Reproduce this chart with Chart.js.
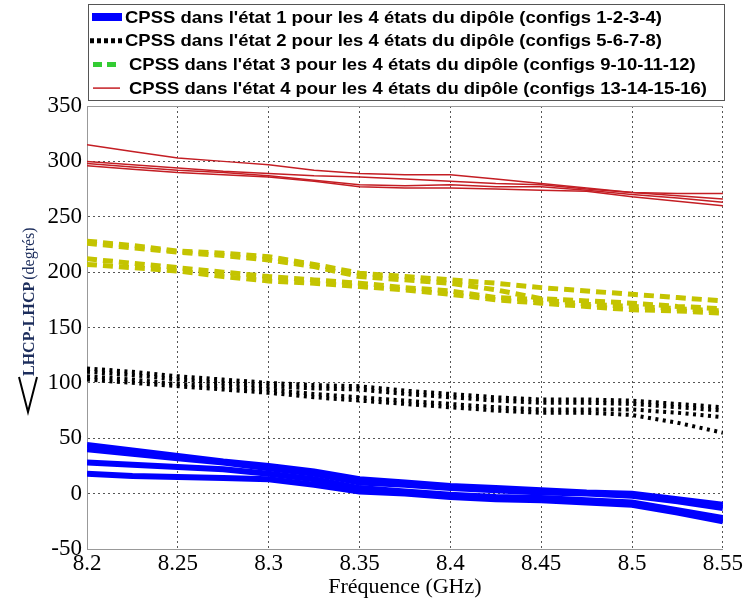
<!DOCTYPE html>
<html>
<head>
<meta charset="utf-8">
<script src="https://cdn.jsdelivr.net/npm/chart.js@4.4.1/dist/chart.umd.min.js"></script>
<style>
  html, body { margin: 0; padding: 0; background: #fff; }
  #wrap { width: 744px; height: 601px; }
</style>
</head>
<body>
<div id="wrap"><canvas id="chart" width="744" height="601"></canvas></div>
<script>
// frequency points (GHz)
const freqs = [8.2, 8.225, 8.25, 8.275, 8.3, 8.325, 8.35, 8.375, 8.4, 8.425, 8.45, 8.475, 8.5, 8.525, 8.55];
const xTickValues = [8.2, 8.25, 8.3, 8.35, 8.4, 8.45, 8.5, 8.55];

// phase LHCP-LHCP (deg), 4 dipole states for each CPSS state
const etat1 = [
  [44, 39, 34, 29, 25, 20, 13, 10, 7, 5, 3, 1, 0, -5, -10],
  [40, 36, 32, 28, 23, 18, 10, 8, 5, 3, 1, 0, -2, -7, -13],
  [28, 26, 24, 22, 18, 13, 5, 2, -1, -3, -4, -6, -8, -15, -22],
  [18, 16, 15, 14, 13, 8, 2, 0, -3, -5, -6, -8, -10, -17, -25]
];
const etat2 = [
  [113, 110, 106, 103, 100, 98, 97, 93, 90, 87, 85, 85, 84, 81, 78],
  [110, 107, 103, 100, 97, 95, 94, 90, 87, 84, 82, 82, 81, 78, 75],
  [106, 103, 99, 97, 94, 90, 87, 84, 81, 78, 76, 76, 76, 73, 69],
  [103, 100, 97, 94, 91, 87, 84, 81, 78, 75, 73, 73, 71, 64, 55]
];
const etat3 = [
  [228, 224, 219, 217, 214, 207, 199, 196, 193, 190, 186, 183, 180, 177, 174],
  [226, 222, 218, 215, 211, 205, 196, 193, 190, 184, 176, 174, 172, 169, 167],
  [212, 208, 204, 200, 196, 193, 190, 186, 183, 177, 175, 171, 169, 167, 165],
  [207, 204, 201, 196, 192, 190, 187, 184, 180, 175, 172, 169, 166, 165, 163]
];
const etat4 = [
  [315, 309, 303, 300, 297, 292, 289, 288, 288, 284, 280, 276, 272, 271, 271],
  [300, 297, 294, 291, 289, 287, 286, 284, 282, 280, 279, 275, 272, 269, 266],
  [298, 295, 292, 290, 287, 283, 279, 278, 279, 277, 277, 274, 270, 267, 263],
  [296, 293, 290, 288, 286, 282, 277, 276, 276, 275, 274, 273, 268, 264, 260]
];

const legendLabels = [
  "CPSS dans l'état 1 pour les 4 états du dipôle (configs 1-2-3-4)",
  "CPSS dans l'état 2 pour les 4 états du dipôle (configs 5-6-7-8)",
  "CPSS dans l'état 3 pour les 4 états du dipôle (configs 9-10-11-12)",
  "CPSS dans l'état 4 pour les 4 états du dipôle (configs 13-14-15-16)"
];

const groups = [etat1, etat2, etat3, etat4];
const lineStyles = [
  { color: '#0000ff', width: 6, dash: [] },
  { color: '#000000', width: 4, dash: [3, 4.5] },
  { color: '#c4c400', width: 5, dash: [10, 6] },
  { color: '#c41e24', width: 1.5, dash: [] }
];

const datasets = [];
groups.forEach((g, gi) => {
  g.forEach((vals) => {
    datasets.push({
      data: freqs.map((f, i) => ({ x: f, y: vals[i] })),
      borderColor: lineStyles[gi].color,
      borderWidth: lineStyles[gi].width,
      borderDash: lineStyles[gi].dash,
      borderCapStyle: 'butt',
      pointRadius: 0,
      tension: 0,
      fill: false
    });
  });
});

// legend box, y axis label and top frame line
const decorations = {
  id: 'decorations',
  afterDraw(chart) {
    const ctx = chart.ctx;
    const area = chart.chartArea;
    ctx.save();
    // top frame
    ctx.strokeStyle = '#999';
    ctx.lineWidth = 1;
    ctx.beginPath();
    ctx.moveTo(area.left, area.top + 0.5);
    ctx.lineTo(area.right, area.top + 0.5);
    ctx.stroke();

    // legend
    ctx.fillStyle = '#fff';
    ctx.fillRect(88, 4, 636, 96);
    ctx.strokeStyle = '#555';
    ctx.strokeRect(88.5, 4.5, 636, 96);
    const sampleColors = ['#0000ff', '#000000', '#33cc33', '#c41e24'];
    ctx.font = 'bold 17px "Liberation Sans", Arial, sans-serif';
    const sx = 578 / ctx.measureText(legendLabels[3]).width;
    legendLabels.forEach((txt, i) => {
      const cy = 17 + i * 23.7;
      ctx.strokeStyle = sampleColors[i];
      ctx.fillStyle = sampleColors[i];
      if (i === 0) {
        ctx.fillRect(92, cy - 4, 30, 8);
      } else {
        ctx.lineWidth = i === 3 ? 1.5 : 5;
        ctx.setLineDash(i === 1 ? [4, 3] : (i === 2 ? [9, 5] : []));
        ctx.beginPath();
        ctx.moveTo(i === 1 ? 90 : 93, cy);
        ctx.lineTo(i === 1 ? 123 : 120, cy);
        ctx.stroke();
        ctx.setLineDash([]);
      }
      ctx.save();
      ctx.translate(i < 2 ? 125 : 129, cy);
      ctx.scale(sx, 1);
      ctx.fillStyle = '#000';
      ctx.textBaseline = 'middle';
      ctx.fillText(txt, 0, 1);
      ctx.restore();
    });

    // y axis label: angle sign + LHCP-LHCP (degrés)
    ctx.strokeStyle = '#000';
    ctx.lineWidth = 2;
    ctx.beginPath();
    ctx.moveTo(19, 377);
    ctx.lineTo(28, 412);
    ctx.lineTo(37, 377);
    ctx.stroke();
    ctx.save();
    ctx.translate(34, 376);
    ctx.rotate(-Math.PI / 2);
    ctx.fillStyle = '#1c2d5c';
    ctx.textBaseline = 'alphabetic';
    ctx.font = 'bold 16px "Liberation Serif", "Times New Roman", serif';
    ctx.fillText('LHCP-LHCP', 0, 0);
    const w = ctx.measureText('LHCP-LHCP').width;
    ctx.font = '16px "Liberation Serif", "Times New Roman", serif';
    ctx.fillText('(degrés)', w + 2, 0);
    ctx.restore();
    ctx.restore();
  }
};

const tickFont = { family: '"Liberation Serif", "Times New Roman", serif', size: 23 };

new Chart(document.getElementById('chart'), {
  type: 'line',
  data: { datasets: datasets },
  plugins: [decorations],
  options: {
    responsive: false,
    animation: false,
    devicePixelRatio: 1,
    layout: { padding: { top: 106, right: 19, bottom: 0, left: 0 } },
    plugins: {
      legend: { display: false },
      tooltip: { enabled: false }
    },
    scales: {
      x: {
        type: 'linear',
        min: 8.2,
        max: 8.55,
        afterBuildTicks: (scale) => { scale.ticks = xTickValues.map(v => ({ value: v })); },
        afterFit: (scale) => { scale.height = 52; },
        ticks: {
          color: '#000',
          font: tickFont,
          padding: 1,
          maxRotation: 0,
          autoSkip: false,
          callback: (v) => String(parseFloat(v.toFixed(2)))
        },
        grid: { color: '#555', drawTicks: false },
        border: { display: true, color: '#999', width: 1, dash: [2, 3] },
        title: {
          display: true,
          text: 'Fréquence (GHz)',
          color: '#000',
          font: { family: '"Liberation Serif", "Times New Roman", serif', size: 22 },
          padding: { top: 0, bottom: 1 }
        }
      },
      y: {
        min: -50,
        max: 350,
        afterFit: (scale) => { scale.width = 87; },
        ticks: { stepSize: 50, color: '#000', font: tickFont, padding: 5 },
        grid: { color: '#555', drawTicks: false },
        border: { display: true, color: '#999', width: 1, dash: [2, 3] }
      }
    }
  }
});
</script>
</body>
</html>
